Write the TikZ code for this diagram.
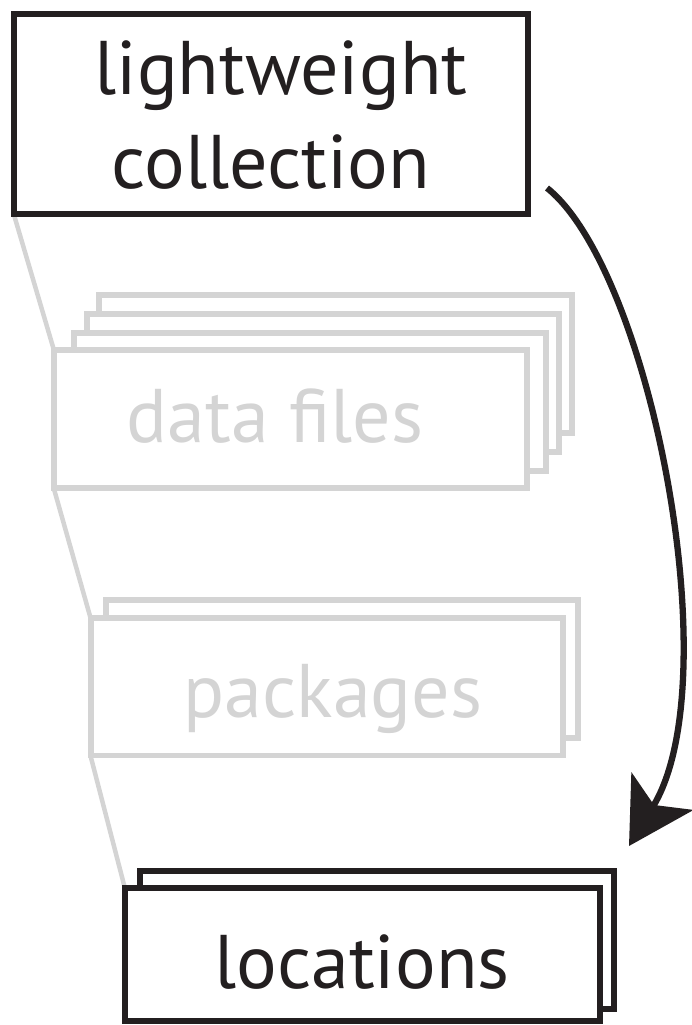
\documentclass[tikz,border=0pt]{standalone}
\usepackage{fontspec}
\setmainfont{PT Sans}
\usetikzlibrary{arrows.meta}
\definecolor{ink}{HTML}{231F20}
\definecolor{pale}{HTML}{D4D4D4}
\begin{document}
\begin{tikzpicture}[x=1pt,y=-1pt,
  darkbox/.style={draw=ink, fill=white, inner sep=0pt, line width=#1},
  palebox/.style={draw=pale, fill=white, inner sep=0pt, line width=5.8pt},
  lbl/.style={text=ink, inner sep=0pt, anchor=base, font=\fontsize{76}{93}\selectfont},
  palelbl/.style={lbl, text=pale},
  link/.style={draw=pale, line width=4.5pt},
  flow/.style={draw=ink, line width=6.3pt, -{Stealth[length=64pt,width=72pt,inset=16pt]}}]
\useasboundingbox (0,0) rectangle (692,1025);
% reference frames for the link ends
\node[inner sep=0pt, minimum width=514pt, minimum height=200pt] (top) at (271,114) {};
\node[inner sep=0pt, minimum width=472.7pt, minimum height=138.3pt] (df1) at (290.3,418.8) {};
\node[inner sep=0pt, minimum width=472.6pt, minimum height=137.5pt] (pk1) at (327,686.75) {};
\node[inner sep=0pt, minimum width=475pt, minimum height=133pt] (loc1) at (362.5,954.5) {};
% grey links behind
\draw[link] (top.south west) -- (df1.north west);
\draw[link] (df1.south west) -- (pk1.north west);
\draw[link] (pk1.south west) -- (loc1.north west);
% top box
\node[darkbox=6.3pt, minimum width=514pt, minimum height=200pt] (topbox) at (top) {};
\node[lbl] (lw1) at (281,95) {lightweight};
\node[lbl] (lw2) at (271,188) {collection};
% data files stack
\node[palebox, minimum width=473pt, minimum height=137.7pt] (df4) at (335.5,364.2) {};
\node[palebox, minimum width=472.3pt, minimum height=138pt] (df3) at (323.2,383) {};
\node[palebox, minimum width=472pt, minimum height=138.3pt] (df2) at (309.7,402.2) {};
\node[palebox, minimum width=472.7pt, minimum height=138.3pt] (df1box) at (df1) {};
\node[palelbl] (dft) at (275,442) {data files};
% packages stack
\node[palebox, minimum width=472.6pt, minimum height=138.3pt] (pk2) at (342,668.85) {};
\node[palebox, minimum width=472.6pt, minimum height=137.5pt] (pk1box) at (pk1) {};
\node[palelbl] (pkt) at (333,717) {packages};
% locations stack
\node[darkbox=5.8pt, minimum width=474pt, minimum height=138pt] (loc2) at (377,940) {};
\node[darkbox=5.8pt, minimum width=475pt, minimum height=133pt] (loc1box) at (loc1) {};
\node[lbl] (loct) at (362,988) {locations};
% arrow
\coordinate (a1) at (547,188);
\coordinate (a2) at (629,846);
\draw[flow] (a1) .. controls (650,270) and (730,680) .. (a2);
\end{tikzpicture}
\end{document}
